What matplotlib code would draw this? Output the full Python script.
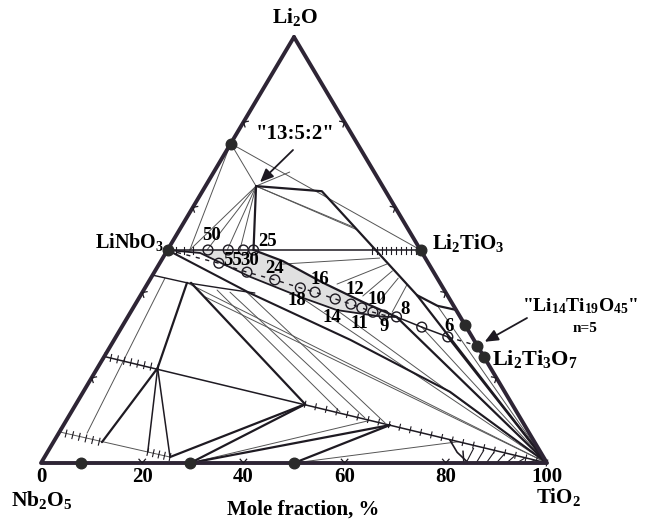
import numpy as np
import matplotlib
matplotlib.use("Agg")
import matplotlib.pyplot as plt
from matplotlib.transforms import IdentityTransform

plt.rcParams['font.family'] = 'Liberation Serif'
plt.rcParams['font.weight'] = 'bold'
plt.rcParams['mathtext.fontset'] = 'custom'
plt.rcParams['mathtext.rm'] = 'Liberation Serif:bold'
plt.rcParams['mathtext.it'] = 'Liberation Serif:bold'
plt.rcParams['mathtext.bf'] = 'Liberation Serif:bold'

# ---- compositions in mol % as (Li2O, TiO2); Nb2O5 is the balance ----
phase_li2o = [75, 50, 50, 32.5, 27.5, 25, 0, 0, 0]
phase_tio2 = [0, 0, 50, 67.5, 72.5, 75, 8, 29.5, 50]

ternary_13_5_2 = (65, 10)

# M-phase series (open circles) with their n labels
m_top_n = ["50", "", "", "25"]
m_top_li2o = [50, 50, 50, 50]
m_top_tio2 = [8, 12, 15, 17]
m_row_n = ["55", "30", "24", "18", "16", "14", "12", "11", "10", "9", "8", "", "6"]
m_row_li2o = [46.9, 44.8, 43.0, 41.1, 40.1, 38.5, 37.3, 36.4, 35.4, 34.7, 34.3, 31.9, 29.6]
m_row_tio2 = [11.7, 18.3, 24.7, 30.7, 34.1, 38.9, 42.6, 45.2, 47.9, 50.4, 53.1, 59.3, 65.6]

# boundaries of the M-phase field
upper_li2o = [50, 47.4, 42.3, 37.8, 34.3]
upper_tio2 = [17, 24.1, 34.6, 44.7, 53.1]
lower_li2o = [50, 49.3, 43.7, 39.0, 35.9, 34.3, 34.3]
lower_tio2 = [0, 6.8, 19.5, 31.7, 40.5, 50.5, 53.1]

# LiNbO3 - TiO2 boundary
lnt_li2o = [50, 39.9, 28.9, 16.7, 0]
lnt_tio2 = [0, 21.3, 46.7, 72.5, 100]

# LiNbO3 solid-solution limit
ssa_li2o = [44.1, 42.3, 41.1, 39.9]
ssa_tio2 = [0, 7.7, 14.8, 22.3]

# Li2TiO3 field boundary from the 13:5:2 phase
lt_li2o = [65, 63.8, 39.4, 36.9, 35.9]
lt_tio2 = [10, 23.6, 54.6, 59.9, 64.2]

# corner field near TiO2
corner_li2o = [5.4, 2.5, 0.2]
corner_tio2 = [78.1, 81.0, 84.2]

# invariant points on the LiNb3O8 - TiO2 join
j1 = (13.8, 45.3)
j2 = (8.9, 64.5)

thick_ties = [
    ((65, 10), (50, 17)),
    ((34.3, 53.1), (0, 100)),
    ((29.6, 65.6), (0, 100)),
    ((39.4, 54.6), (0, 100)),
    ((22.3, 11.9), (42.3, 7.7)),
    ((4.9, 9.6), (22.3, 11.9)),
    ((1.4, 24.8), j1),
    ((0, 29.5), j1),
    ((0, 29.5), j2),
    ((0, 50), j2),
    ((42.3, 8.5), j1),
]
medium_ties = [
    ((50, 0), (50, 50)),
    ((25, 0), (0, 100)),
    ((22.3, 11.9), (2.6, 19.8)),
    ((22.3, 11.9), (1.4, 24.8)),
    ((34.3, 53.1), (31.9, 59.3)),
    ((31.9, 59.3), (29.6, 65.6)),
    ((0.3, 83.4), (2.8, 82.0)),
]
thin_ties = [
    ((75, 0), (50, 50)),
    ((75, 0), (65, 10)),
    ((75, 0), (50, 4.4)),
    ((65, 10), (50, 4.4)),
    ((65, 10), (50, 7.8)),
    ((65, 10), (50, 11.8)),
    ((65, 10), (50, 14.3)),
    ((65, 10), (54.7, 35.2)),
    ((65, 10), (55.4, 34.0)),
    ((65, 10), (68.3, 15.0)),
    ((46.7, 24.4), (48.1, 42.9)),
    ((42.0, 37.5), (46.7, 45.0)),
    ((39.2, 44.0), (45.1, 46.9)),
    ((37.6, 47.8), (43.4, 48.9)),
    ((35.4, 51.7), (41.8, 51.4)),
    ((43.4, 2.8), (7.0, 5.6)),
    ((7.3, 0), (1.4, 24.8)),
    ((31.9, 59.3), (0, 100)),
    ((36.9, 59.9), (0, 100)),
    ((32.5, 67.5), (0, 100)),
    ((39.0, 31.7), (0, 100)),
    ((35.9, 40.5), (0, 100)),
    ((42.3, 7.7), (0, 100)),
    ((39.0, 12.9), (0, 100)),
    ((40.6, 14.5), (12.0, 53.1)),
    ((40.1, 17.3), (10.6, 58.7)),
    ((40.1, 20.6), (9.4, 63.3)),
    ((0, 29.5), (10.0, 60.0)),
    ((0, 50), (5.0, 80.0)),
]

W, H = 646, 520
fig = plt.figure(figsize=(W / 100, H / 100), dpi=100)
ax = fig.add_axes([41 / W, 57 / H, 506 / W, 426 / H])
ax.set_xlim(0, 1)
ax.set_ylim(0, 1)
ax.axis('off')

DARK = '#1e1a22'
GREY = '#555555'


def xy(li, ti):
    li = np.asarray(li, float)
    ti = np.asarray(ti, float)
    return ti / 100 + li / 200, li / 100


def line(li, ti, **kw):
    X, Y = xy(li, ti)
    ax.plot(X, Y, clip_on=False, solid_capstyle='round', **kw)


def seg(p, q, **kw):
    line([p[0], q[0]], [p[1], q[1]], **kw)


def to_px(li, ti):
    X, Y = xy(li, ti)
    return ax.transData.transform(np.column_stack([np.atleast_1d(X), np.atleast_1d(Y)]))


def hatch(p, q, n, size=3.5, lw=0.8, color=DARK):
    P = to_px([p[0], q[0]], [p[1], q[1]])
    d = P[1] - P[0]
    d = d / np.hypot(*d)
    nrm = np.array([-d[1], d[0]])
    for s in np.linspace(0, 1, n):
        c = P[0] + s * (P[1] - P[0])
        a, b = c - size * nrm, c + size * nrm
        ax.plot([a[0], b[0]], [a[1], b[1]], transform=IdentityTransform(),
                color=color, lw=lw, clip_on=False)


def chevron(li, ti, inward, size=5):
    c = to_px(li, ti)[0]
    inward = np.asarray(inward, float)
    inward = inward / np.hypot(*inward)
    perp = np.array([-inward[1], inward[0]])
    a = c + size * (0.75 * inward + 0.65 * perp)
    b = c + size * (0.75 * inward - 0.65 * perp)
    ax.plot([a[0], c[0], b[0]], [a[1], c[1], b[1]], transform=IdentityTransform(),
            color=DARK, lw=0.9, clip_on=False)


# M-phase field shading
poly_li = [50, 50] + upper_li2o[1:] + lower_li2o[::-1][1:]
poly_ti = [4, 17] + upper_tio2[1:] + lower_tio2[::-1][1:]
PX, PY = xy(poly_li, poly_ti)
ax.fill(PX, PY, color='#e0e0e0', lw=0, zorder=0.5)

# tie lines
for p, q in thin_ties:
    seg(p, q, color=GREY, lw=0.7)
for p, q in medium_ties:
    seg(p, q, color=DARK, lw=1.1)
for p, q in thick_ties:
    seg(p, q, color=DARK, lw=1.6)

line(upper_li2o, upper_tio2, color=DARK, lw=1.6)
line(lower_li2o, lower_tio2, color=DARK, lw=1.3)
line(lnt_li2o, lnt_tio2, color=DARK, lw=1.5)
line(ssa_li2o, ssa_tio2, color=DARK, lw=1.0)
line(lt_li2o, lt_tio2, color=DARK, lw=1.6)
line(corner_li2o, corner_tio2, color=DARK, lw=1.2)

# M-phase series line
line([50] + m_row_li2o[:11], [0] + m_row_tio2[:11], color=DARK, lw=1.0, ls=(0, (3, 4)))
line([m_row_li2o[-1], 27.5], [m_row_tio2[-1], 72.5], color=DARK, lw=1.0, ls=(0, (3, 4)))

# hatched two-phase limits
hatch((50, 40.4), (50, 50), 11)
hatch((50, 0), (50, 5), 4)
hatch((25, 0), (22.3, 11.9), 9)
hatch(j1, (0, 100), 24, size=3)
hatch((7.3, 0), (5.0, 9.0), 7)
hatch((2.6, 19.8), (1.4, 24.8), 5)
for k in range(7):
    tt = 85.5 + 2.0 * k
    aa = max(0.0, (25 - tt / 4) * 0.95)
    seg((0, tt - 1.5), (aa, tt - aa / 2), color=DARK, lw=0.8)

# triangle frame
line([100, 0, 0, 100], [0, 0, 100, 0], color='#2e2535', lw=2.8)

# edge marks every 20 %
for v in [20, 40, 60, 80]:
    chevron(0, v, (0, 1))
    chevron(v, 0, (1, -0.58))
    chevron(v, 100 - v, (-1, -0.58))

# phases
PXs, PYs = xy(phase_li2o, phase_tio2)
ax.scatter(PXs, PYs, s=58, color='#2a2a2a', zorder=5, clip_on=False)

TX, TY = xy(m_top_li2o, m_top_tio2)
ax.scatter(TX, TY, s=50, facecolor='none', edgecolor=DARK, lw=1.0, zorder=6, clip_on=False)
RX, RY = xy(m_row_li2o, m_row_tio2)
ax.scatter(RX, RY, s=50, facecolor='none', edgecolor=DARK, lw=1.0, zorder=6, clip_on=False)

top_off = {"50": (4, 14), "25": (14, 9)}
row_off = {"55": (14, 3), "30": (3, 12), "24": (0, 11), "18": (-3, -13), "16": (5, 13),
           "14": (-3, -19), "12": (4, 15), "11": (-2, -16), "10": (4, 13), "9": (0, -11),
           "8": (9, 7), "6": (1, 10)}
for lab, X, Y in zip(m_top_n, TX, TY):
    if lab:
        ax.annotate(lab, (X, Y), xytext=top_off[lab], textcoords='offset pixels',
                    ha='center', va='center', fontsize=13.5, zorder=7)
for lab, X, Y in zip(m_row_n, RX, RY):
    if lab:
        ax.annotate(lab, (X, Y), xytext=row_off[lab], textcoords='offset pixels',
                    ha='center', va='center', fontsize=13.5, zorder=7)


def ftext(x, y, s, **kw):
    fig.text(x / W, 1 - y / H, s, **kw)


ftext(295, 17, r'Li$_2$O', ha='center', va='center', fontsize=15.5)
ftext(295, 134, '"13:5:2"', ha='center', va='center', fontsize=15)
ftext(164, 242, r'LiNbO$_3$', ha='right', va='center', fontsize=14.5)
ftext(432, 243, r'Li$_2$TiO$_3$', ha='left', va='center', fontsize=15)
ftext(522, 306, r'"Li$_{14}$Ti$_{19}$O$_{45}$"', ha='left', va='center', fontsize=14)
ftext(585, 328, 'n=5', ha='center', va='center', fontsize=11)
ftext(492, 359, r'Li$_2$Ti$_3$O$_7$', ha='left', va='center', fontsize=16)
ftext(42, 500, r'Nb$_2$O$_5$', ha='center', va='center', fontsize=15.5)
ftext(558, 497, r'TiO$_2$', ha='center', va='center', fontsize=15)
ftext(303, 510, 'Mole fraction, %', ha='center', va='center', fontsize=15)

for v in [0, 20, 40, 60, 80, 100]:
    X, _ = xy(0, v)
    ax.annotate(str(v), (X, 0), xytext=(0, -14), textcoords='offset pixels',
                ha='center', va='center', fontsize=15, annotation_clip=False)

# pointer arrows
ax.annotate('', xy=xy(*ternary_13_5_2), xytext=(293, H - 150), textcoords='figure pixels',
            arrowprops=dict(arrowstyle='-|>,head_length=0.8,head_width=0.35', color=DARK,
                            lw=1.3, shrinkA=0, shrinkB=4))
ax.annotate('', xy=xy(27.5, 72.5), xytext=(527, H - 318), textcoords='figure pixels',
            arrowprops=dict(arrowstyle='-|>,head_length=0.8,head_width=0.35', color=DARK,
                            lw=1.3, shrinkA=0, shrinkB=6))

fig.savefig('out.png', dpi=100, facecolor='white')
